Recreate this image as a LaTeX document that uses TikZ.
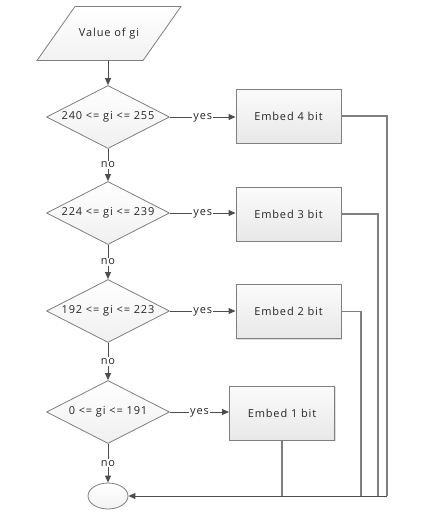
\documentclass[tikz,border=0pt]{standalone}
\usepackage{fontspec}
\setmainfont{Open Sans}[LetterSpace=8]
\usetikzlibrary{shapes.geometric,arrows.meta,shadows}
\definecolor{lineC}{HTML}{4D4D4D}
\definecolor{edgeC}{HTML}{7F7F7F}
\definecolor{textC}{HTML}{262626}
\begin{document}
\begin{tikzpicture}[x=1pt,y=-1pt,
  font=\fontsize{11}{13}\selectfont, text=textC,
  flow/.style={draw=lineC,line width=0.9pt,-{Triangle[length=7pt,width=6pt]}},
  back/.style={draw=edgeC,line width=1.1pt},
  decision/.style={diamond,aspect=2,inner sep=0pt,minimum width=123pt,minimum height=63pt,
     draw=edgeC,line width=0.8pt,top color=white,bottom color=gray!12},
  procbox/.style={rectangle,inner sep=0pt,minimum width=105pt,minimum height=54pt,
     draw=edgeC,line width=0.9pt,top color=white!97!gray,bottom color=gray!18,
     drop shadow={opacity=0.25,shadow xshift=1pt,shadow yshift=-1pt}},
  terminal/.style={ellipse,inner sep=0pt,minimum width=40pt,minimum height=26pt,
     draw=edgeC,line width=0.8pt,top color=white,bottom color=gray!10},
  lbl/.style={fill=white,inner sep=1pt},
  ylbl/.style={fill=white,inner sep=1pt,anchor=mid}]
\useasboundingbox (0,0) rectangle (423,512);
% input parallelogram
\path[draw=edgeC,line width=0.8pt,top color=white,bottom color=gray!10]
  (75,6.5) -- (181,6.5) -- (143,60.5) -- (37,60.5) -- cycle;
\node[inner sep=0pt,minimum width=106pt,minimum height=54pt] (in) at (109,33.5) {Value of gi};
% decisions
\node[decision] (d1) at (108,117) {240 <= gi <= 255};
\node[decision] (d2) at (108,213) {224 <= gi <= 239};
\node[decision] (d3) at (108,311) {192 <= gi <= 223};
\node[decision] (d4) at (108,412) {0 <= gi <= 191};
% process boxes
\node[procbox] (b1) at (288.5,116) {Embed 4 bit};
\node[procbox] (b2) at (288.5,214) {Embed 3 bit};
\node[procbox] (b3) at (288.5,311.5) {Embed 2 bit};
\node[procbox] (b4) at (282,413) {Embed 1 bit};
% end
\node[terminal] (end) at (108,496) {};
% main flow
\draw[flow] (in.south -| d1.north) -- (d1.north);
\draw[flow] (d1.south) -- node[lbl] {no} (d2.north);
\draw[flow] (d2.south) -- node[lbl] {no} (d3.north);
\draw[flow] (d3.south) -- node[lbl] {no} (d4.north);
\draw[flow] (d4.south) -- node[lbl] {no} (end.north);
\draw[flow] (d1.east) -- node[ylbl] {yes} (b1.west |- d1.east);
\draw[flow] (d2.east) -- node[ylbl] {yes} (b2.west |- d2.east);
\draw[flow] (d3.east) -- node[ylbl] {yes} (b3.west |- d3.east);
\draw[flow] (d4.east) -- node[ylbl] {yes} (b4.west |- d4.east);
% return lines
\coordinate (c1) at (387,496);
\coordinate (c2) at (378,496);
\coordinate (c3) at (361,496);
\draw[back] (b1.east) -| (c1);
\draw[back] (b2.east) -| (c2);
\draw[back] (b3.east) -| (c3);
\draw[back] (b4.south) -- (b4.south |- c1);
\draw[flow] (c1) -- (end.east);
\end{tikzpicture}
\end{document}
